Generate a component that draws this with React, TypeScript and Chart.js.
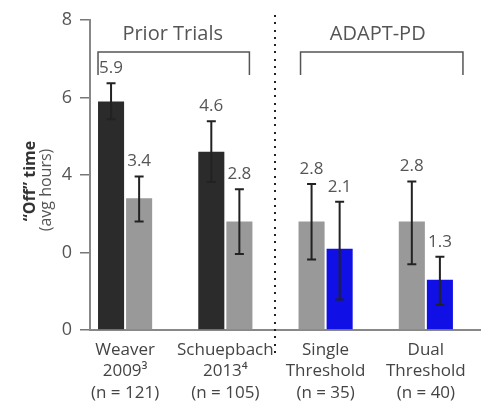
import React, { useEffect, useRef } from "react";
import { Chart, registerables } from "chart.js";

Chart.register(...registerables);

// ---- data ----
const categories = ["Weaver", "Schuepbach", "Single", "Dual"];
const xLabelLines = [
  ["Weaver", "2009³", "(n = 121)"],
  ["Schuepbach", "2013⁴", "(n = 105)"],
  ["Single", "Threshold", "(n = 35)"],
  ["Dual", "Threshold", "(n = 40)"],
];
const firstValues = [5.9, 4.6, 2.8, 2.8];
const firstHigh = [6.37, 5.39, 3.77, 3.83];
const firstLow = [5.44, 3.82, 1.82, 1.7];
const secondValues = [3.4, 2.8, 2.1, 1.3];
const secondHigh = [3.96, 3.63, 3.31, 1.89];
const secondLow = [2.8, 1.96, 0.79, 0.65];
const yTickValues = [0, 2, 4, 6, 8];
const yTickLabels = ["0", "0", "4", "6", "8"];
const groupTitles = ["Prior Trials", "ADAPT-PD"];

// ---- styles / layout ----
const DARK = "#2b2b2b";
const GRAY = "#999999";
const BLUE = "#1010e6";
const FONT = '"Open Sans", Lato, sans-serif';
const firstColors = [DARK, DARK, GRAY, GRAY];
const secondColors = [GRAY, GRAY, BLUE, BLUE];
const bracketSpans = [
  [-0.27, 1.24],
  [1.75, 3.37],
];
const titleCenters = [0.475, 2.52];

const decorPlugin = {
  id: "decor",
  afterDatasetsDraw(chart: any) {
    const ctx = chart.ctx;
    const xs = chart.scales.x;
    const ys = chart.scales.y;
    const area = chart.chartArea;
    ctx.save();
    const errs = [
      [firstLow, firstHigh, firstValues],
      [secondLow, secondHigh, secondValues],
    ];
    errs.forEach(([lo, hi, vals], di) => {
      const meta = chart.getDatasetMeta(di);
      meta.data.forEach((bar: any, i: number) => {
        const x = bar.x;
        const yl = ys.getPixelForValue(lo[i]);
        const yh = ys.getPixelForValue(hi[i]);
        ctx.strokeStyle = "#222";
        ctx.lineWidth = 2;
        ctx.beginPath();
        ctx.moveTo(x, yl);
        ctx.lineTo(x, yh);
        ctx.moveTo(x - 4.5, yl);
        ctx.lineTo(x + 4.5, yl);
        ctx.moveTo(x - 4.5, yh);
        ctx.lineTo(x + 4.5, yh);
        ctx.stroke();
        ctx.fillStyle = "#555";
        ctx.font = `17px ${FONT}`;
        ctx.textAlign = "center";
        ctx.textBaseline = "middle";
        ctx.fillText(vals[i].toFixed(1), x, yh - 15);
      });
    });
    // dotted separator
    const sepX = xs.getPixelForValue(1.5);
    ctx.fillStyle = "#222";
    for (let y = 15; y <= 353; y += 7.3) {
      ctx.fillRect(Math.round(sepX) - 1, Math.round(y), 2, 2);
    }
    // brackets and group titles
    ctx.strokeStyle = "#555";
    ctx.lineWidth = 1.5;
    bracketSpans.forEach(([a, b], gi) => {
      const x1 = xs.getPixelForValue(a);
      const x2 = xs.getPixelForValue(b);
      const yTop = area.top + 32;
      const yBot = area.top + 55;
      ctx.beginPath();
      ctx.moveTo(x1, yBot);
      ctx.lineTo(x1, yTop);
      ctx.lineTo(x2, yTop);
      ctx.lineTo(x2, yBot);
      ctx.stroke();
      ctx.fillStyle = "#555";
      ctx.font = `20px ${FONT}`;
      ctx.textAlign = "center";
      ctx.textBaseline = "middle";
      ctx.fillText(groupTitles[gi], xs.getPixelForValue(titleCenters[gi]), area.top + 14);
    });
    // y axis title
    ctx.save();
    ctx.translate(30, 181);
    ctx.rotate(-Math.PI / 2);
    ctx.textAlign = "center";
    ctx.textBaseline = "middle";
    ctx.fillStyle = "#333";
    ctx.font = `bold 16px ${FONT}`;
    ctx.fillText("“Off” time", 0, 0);
    ctx.restore();
    ctx.save();
    ctx.translate(46, 190);
    ctx.rotate(-Math.PI / 2);
    ctx.textAlign = "center";
    ctx.textBaseline = "middle";
    ctx.fillStyle = "#555";
    ctx.font = `16px ${FONT}`;
    ctx.fillText("(avg hours)", 0, 0);
    ctx.restore();
    ctx.restore();
  },
};

export default function App() {
  const ref = useRef<HTMLCanvasElement>(null);
  useEffect(() => {
    if (!ref.current) return;
    const chart = new Chart(ref.current, {
      type: "bar",
      data: {
        datasets: [
          {
            data: firstValues.map((v, i) => ({ x: i, y: v })),
            backgroundColor: firstColors,
          },
          {
            data: secondValues.map((v, i) => ({ x: i, y: v })),
            backgroundColor: secondColors,
          },
        ],
      },
      options: {
        responsive: false,
        animation: false,
        categoryPercentage: 0.56,
        barPercentage: 26 / 28,
        layout: { padding: { top: 20, left: 0, right: 0, bottom: 0 } },
        plugins: { legend: { display: false }, tooltip: { enabled: false } },
        scales: {
          x: {
            type: "linear",
            offset: false,
            min: -0.35,
            max: 3.55,
            afterBuildTicks: (s: any) => {
              s.ticks = categories.map((_, i) => ({ value: i }));
            },
            afterFit: (s: any) => {
              s.height = 78;
            },
            grid: { display: false, drawTicks: false },
            border: { color: "#888", width: 2 },
            ticks: {
              autoSkip: false,
              maxRotation: 0,
              padding: 9,
              color: "#444",
              font: { family: FONT, size: 17, lineHeight: 1.27 },
              callback: (v: any) => xLabelLines[v] ?? "",
            },
          },
          y: {
            min: 0,
            max: 8,
            afterBuildTicks: (s: any) => {
              s.ticks = yTickValues.map((v) => ({ value: v }));
            },
            afterFit: (s: any) => {
              s.width = 90;
            },
            grid: { drawOnChartArea: false, tickLength: 10, color: "#777", lineWidth: 1.5 },
            border: { color: "#888", width: 2 },
            ticks: {
              padding: 8,
              color: "#555",
              font: { family: FONT, size: 18 },
              callback: (v: any) => yTickLabels[yTickValues.indexOf(v)] ?? "",
            },
          },
        },
      },
      plugins: [decorPlugin],
    } as any);
    return () => chart.destroy();
  }, []);
  return (
    <div style={{ position: "fixed", left: 0, top: 0, width: 481, height: 408 }}>
      <canvas ref={ref} width={481} height={408} style={{ display: "block" }} />
    </div>
  );
}
